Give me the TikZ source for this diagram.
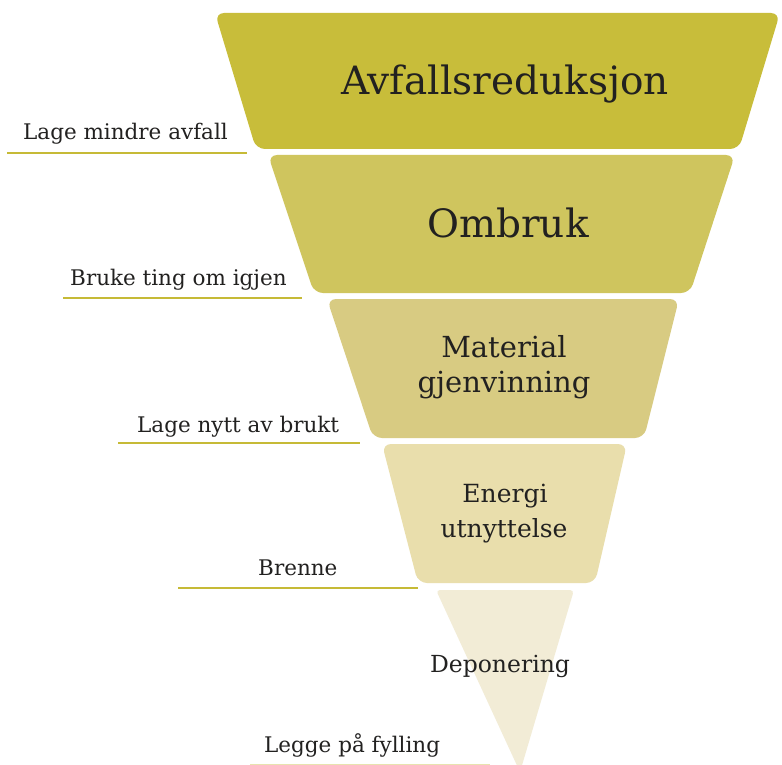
\documentclass[tikz,border=0pt]{standalone}
\usepackage{fontspec}
\setmainfont{DejaVu Serif}
\definecolor{bandA}{HTML}{C8BD3A}
\definecolor{bandB}{HTML}{CFC55E}
\definecolor{bandC}{HTML}{D8CB82}
\definecolor{bandD}{HTML}{E9DEAC}
\definecolor{bandE}{HTML}{F2ECD6}
\definecolor{ruleyel}{HTML}{C6BA36}
\definecolor{inkgray}{HTML}{222120}
\tikzset{
  band/.style={rounded corners=9pt, draw=none},
  sidelabel/.style={anchor=base west, inner sep=0pt, text=inkgray, font=\fontsize{21.5}{25}\selectfont},
  underrule/.style={draw=ruleyel, line width=2.8pt},
  bigtitle/.style={anchor=base, inner sep=0pt, text=inkgray, font=\fontsize{39}{44}\selectfont},
  midtitle/.style={anchor=base, inner sep=0pt, text=inkgray, font=\fontsize{29}{34}\selectfont},
  smalltitle/.style={anchor=base, inner sep=0pt, text=inkgray, font=\fontsize{25}{30}\selectfont},
  tinytitle/.style={anchor=base, inner sep=0pt, text=inkgray, font=\fontsize{23.5}{28}\selectfont},
}
\begin{document}
\begin{tikzpicture}[x=1pt,y=-1pt]
\useasboundingbox (0,0) rectangle (782,765);
\fill[white] (0,0) rectangle (782,765);

% funnel bands
\fill[band, fill=bandA] (215,13) -- (780,13) -- (739,149) -- (256,149) -- cycle;
\fill[band, fill=bandB] (268,155) -- (735,155) -- (690,293) -- (314,293) -- cycle;
\fill[band, fill=bandC] (327,299) -- (679,299) -- (644,438) -- (373,438) -- cycle;
\fill[band, fill=bandD] (382,444) -- (627,444) -- (595,583) -- (418,583) -- cycle;
\fill[fill=bandE, rounded corners=4pt] (436,590) -- (574,590) -- (520,772) -- cycle;

% band titles
\node[bigtitle] (t1) at (505,95) {Avfallsreduksjon};
\node[bigtitle] (t2) at (508,237) {Ombruk};
\node[midtitle] (t3a) at (504,357) {Material};
\node[midtitle] (t3b) at (504,392) {gjenvinning};
\node[smalltitle] (t4a) at (505,502) {Energi};
\node[smalltitle] (t4b) at (504,537) {utnyttelse};
\node[tinytitle] (t5) at (500,672) {Deponering};

% side labels
\node[sidelabel] (s1) at (23,140) {Lage mindre avfall};
\node[sidelabel] (s2) at (70,285) {Bruke ting om igjen};
\node[sidelabel] (s3) at (137,432) {Lage nytt av brukt};
\node[sidelabel] (s4) at (258,575) {Brenne};
\node[sidelabel] (s5) at (264,752) {Legge på fylling};

% underlines
\coordinate (r1a) at (7,153);   \coordinate (r1b) at (247,153);
\coordinate (r2a) at (63,298);  \coordinate (r2b) at (302,298);
\coordinate (r3a) at (118,443); \coordinate (r3b) at (360,443);
\coordinate (r4a) at (178,588); \coordinate (r4b) at (418,588);
\coordinate (r5a) at (250,765); \coordinate (r5b) at (490,765);
\draw[underrule] (r1a) -- (r1b);
\draw[underrule] (r2a) -- (r2b);
\draw[underrule] (r3a) -- (r3b);
\draw[underrule] (r4a) -- (r4b);
\draw[underrule, draw=ruleyel!40] (r5a) -- (r5b);
\end{tikzpicture}
\end{document}
